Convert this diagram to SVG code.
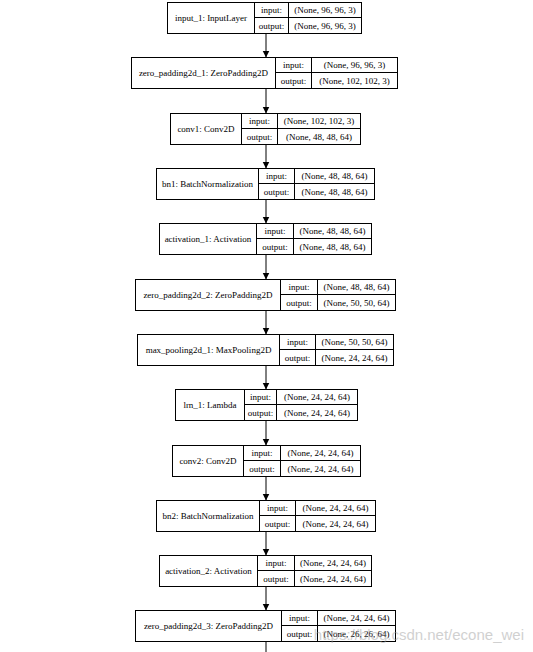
<svg xmlns="http://www.w3.org/2000/svg" width="533" height="652" viewBox="0 0 533 652">
<defs>
<style>
.b{fill:#fff;stroke:#000;stroke-width:1}
.d{stroke:#000;stroke-width:1;fill:none}
.t{font-family:"Liberation Serif","Times New Roman",serif;font-size:9px;text-anchor:middle;fill:#000}
.e{stroke:#000;stroke-width:1;fill:none}
.wm{font-family:"Liberation Sans",Arial,sans-serif;font-size:15px;fill:#999;opacity:0.45;text-anchor:end}
</style>
<marker id="ah" markerUnits="userSpaceOnUse" markerWidth="7" markerHeight="8" refX="7" refY="3.5" orient="auto">
<path d="M0,0 L7,3.5 L0,7 z" fill="#000"/>
</marker>
</defs>
<rect x="0" y="0" width="533" height="652" fill="#fff"/>
<g id="connectors">
<line class="e" x1="266" y1="33.5" x2="266" y2="57.5" marker-end="url(#ah)"/>
<line class="e" x1="266" y1="88.5" x2="266" y2="113.5" marker-end="url(#ah)"/>
<line class="e" x1="266" y1="144.5" x2="266" y2="168.5" marker-end="url(#ah)"/>
<line class="e" x1="266" y1="199.5" x2="266" y2="223.5" marker-end="url(#ah)"/>
<line class="e" x1="266" y1="254.5" x2="266" y2="279.5" marker-end="url(#ah)"/>
<line class="e" x1="266" y1="310.5" x2="266" y2="334.5" marker-end="url(#ah)"/>
<line class="e" x1="266" y1="365.5" x2="266" y2="389.5" marker-end="url(#ah)"/>
<line class="e" x1="266" y1="420.5" x2="266" y2="445.5" marker-end="url(#ah)"/>
<line class="e" x1="266" y1="476.5" x2="266" y2="500.5" marker-end="url(#ah)"/>
<line class="e" x1="266" y1="531.5" x2="266" y2="555.5" marker-end="url(#ah)"/>
<line class="e" x1="266" y1="586.5" x2="266" y2="610.5" marker-end="url(#ah)"/>
<line class="e" x1="266" y1="641.5" x2="266" y2="652"/>
</g>
<g id="input_1">
<rect class="b" x="167.5" y="2.5" width="194" height="31"/>
<path class="d" d="M254.5,2.5V33.5M288.5,2.5V33.5M254.5,17.5H361.5"/>
<text class="t" x="211" y="21">input_1: InputLayer</text>
<text class="t" x="271.5" y="13">input:</text>
<text class="t" x="271.5" y="29">output:</text>
<text class="t" x="325" y="13">(None, 96, 96, 3)</text>
<text class="t" x="325" y="29">(None, 96, 96, 3)</text>
</g>
<g id="zero_padding2d_1">
<rect class="b" x="131.5" y="57.5" width="266" height="31"/>
<path class="d" d="M275.5,57.5V88.5M311.5,57.5V88.5M275.5,72.5H397.5"/>
<text class="t" x="203.5" y="76">zero_padding2d_1: ZeroPadding2D</text>
<text class="t" x="293.5" y="68">input:</text>
<text class="t" x="293.5" y="84">output:</text>
<text class="t" x="354.5" y="68">(None, 96, 96, 3)</text>
<text class="t" x="354.5" y="84">(None, 102, 102, 3)</text>
</g>
<g id="conv1">
<rect class="b" x="170.5" y="113.5" width="190" height="31"/>
<path class="d" d="M241.5,113.5V144.5M277.5,113.5V144.5M241.5,128.5H360.5"/>
<text class="t" x="206" y="132">conv1: Conv2D</text>
<text class="t" x="259.5" y="124">input:</text>
<text class="t" x="259.5" y="140">output:</text>
<text class="t" x="319" y="124">(None, 102, 102, 3)</text>
<text class="t" x="319" y="140">(None, 48, 48, 64)</text>
</g>
<g id="bn1">
<rect class="b" x="156.5" y="168.5" width="218" height="31"/>
<path class="d" d="M258.5,168.5V199.5M294.5,168.5V199.5M258.5,183.5H374.5"/>
<text class="t" x="207.5" y="187">bn1: BatchNormalization</text>
<text class="t" x="276.5" y="179">input:</text>
<text class="t" x="276.5" y="195">output:</text>
<text class="t" x="334.5" y="179">(None, 48, 48, 64)</text>
<text class="t" x="334.5" y="195">(None, 48, 48, 64)</text>
</g>
<g id="activation_1">
<rect class="b" x="159.5" y="223.5" width="212" height="31"/>
<path class="d" d="M256.5,223.5V254.5M293.5,223.5V254.5M256.5,238.5H371.5"/>
<text class="t" x="208" y="242">activation_1: Activation</text>
<text class="t" x="275" y="234">input:</text>
<text class="t" x="275" y="250">output:</text>
<text class="t" x="332.5" y="234">(None, 48, 48, 64)</text>
<text class="t" x="332.5" y="250">(None, 48, 48, 64)</text>
</g>
<g id="zero_padding2d_2">
<rect class="b" x="135.5" y="279.5" width="260" height="31"/>
<path class="d" d="M280.5,279.5V310.5M317.5,279.5V310.5M280.5,294.5H395.5"/>
<text class="t" x="208" y="298">zero_padding2d_2: ZeroPadding2D</text>
<text class="t" x="299" y="290">input:</text>
<text class="t" x="299" y="306">output:</text>
<text class="t" x="356.5" y="290">(None, 48, 48, 64)</text>
<text class="t" x="356.5" y="306">(None, 50, 50, 64)</text>
</g>
<g id="max_pooling2d_1">
<rect class="b" x="137.5" y="334.5" width="256" height="31"/>
<path class="d" d="M279.5,334.5V365.5M315.5,334.5V365.5M279.5,349.5H393.5"/>
<text class="t" x="208.5" y="353">max_pooling2d_1: MaxPooling2D</text>
<text class="t" x="297.5" y="345">input:</text>
<text class="t" x="297.5" y="361">output:</text>
<text class="t" x="354.5" y="345">(None, 50, 50, 64)</text>
<text class="t" x="354.5" y="361">(None, 24, 24, 64)</text>
</g>
<g id="lrn_1">
<rect class="b" x="175.5" y="389.5" width="182" height="31"/>
<path class="d" d="M244.5,389.5V420.5M276.5,389.5V420.5M244.5,404.5H357.5"/>
<text class="t" x="210" y="408">lrn_1: Lambda</text>
<text class="t" x="260.5" y="400">input:</text>
<text class="t" x="260.5" y="416">output:</text>
<text class="t" x="317" y="400">(None, 24, 24, 64)</text>
<text class="t" x="317" y="416">(None, 24, 24, 64)</text>
</g>
<g id="conv2">
<rect class="b" x="172.5" y="445.5" width="188" height="31"/>
<path class="d" d="M243.5,445.5V476.5M280.5,445.5V476.5M243.5,460.5H360.5"/>
<text class="t" x="208" y="464">conv2: Conv2D</text>
<text class="t" x="262" y="456">input:</text>
<text class="t" x="262" y="472">output:</text>
<text class="t" x="320.5" y="456">(None, 24, 24, 64)</text>
<text class="t" x="320.5" y="472">(None, 24, 24, 64)</text>
</g>
<g id="bn2">
<rect class="b" x="156.5" y="500.5" width="219" height="31"/>
<path class="d" d="M259.5,500.5V531.5M295.5,500.5V531.5M259.5,515.5H375.5"/>
<text class="t" x="208" y="519">bn2: BatchNormalization</text>
<text class="t" x="277.5" y="511">input:</text>
<text class="t" x="277.5" y="527">output:</text>
<text class="t" x="335.5" y="511">(None, 24, 24, 64)</text>
<text class="t" x="335.5" y="527">(None, 24, 24, 64)</text>
</g>
<g id="activation_2">
<rect class="b" x="159.5" y="555.5" width="212" height="31"/>
<path class="d" d="M257.5,555.5V586.5M294.5,555.5V586.5M257.5,570.5H371.5"/>
<text class="t" x="208.5" y="574">activation_2: Activation</text>
<text class="t" x="276" y="566">input:</text>
<text class="t" x="276" y="582">output:</text>
<text class="t" x="333" y="566">(None, 24, 24, 64)</text>
<text class="t" x="333" y="582">(None, 24, 24, 64)</text>
</g>
<g id="zero_padding2d_3">
<rect class="b" x="135.5" y="610.5" width="260" height="31"/>
<path class="d" d="M281.5,610.5V641.5M317.5,610.5V641.5M281.5,625.5H395.5"/>
<text class="t" x="208.5" y="629">zero_padding2d_3: ZeroPadding2D</text>
<text class="t" x="299.5" y="621">input:</text>
<text class="t" x="299.5" y="637">output:</text>
<text class="t" x="356.5" y="621">(None, 24, 24, 64)</text>
<text class="t" x="356.5" y="637">(None, 26, 26, 64)</text>
</g>
<text class="wm" x="524" y="640">https://blog.csdn.net/econe_wei</text>
</svg>
